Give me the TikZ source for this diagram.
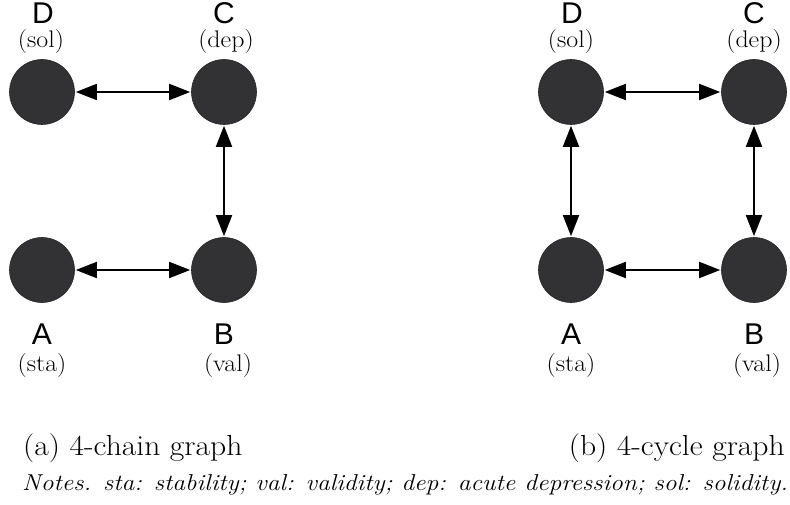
\documentclass[tikz,border=0pt]{standalone}
\usepackage{fontspec}
\setsansfont{Liberation Sans}
\usetikzlibrary{arrows.meta}
\definecolor{nodegray}{RGB}{50,50,52}
\tikzset{
  vtx/.style={circle,fill=nodegray,draw=black!85,line width=0.6pt,minimum size=65pt,inner sep=0pt},
  letter/.style={font=\sffamily\fontsize{30}{30}\selectfont,inner sep=0pt},
  abbr/.style={font=\fontsize{24}{24}\selectfont,inner sep=0pt,xscale=1.08},
  link/.style={line width=1.8pt,{Triangle[length=21pt,width=16pt]}-{Triangle[length=21pt,width=16pt]},shorten <=1pt,shorten >=1pt},
  captext/.style={font=\fontsize{29}{29}\selectfont,inner sep=0pt,anchor=base west,xscale=1.09},
}
\begin{document}
\begin{tikzpicture}[x=1pt,y=-1pt]
\useasboundingbox (0,0) rectangle (790,505);
% (a) chain
\node[vtx] (aD) at (42,92) {};
\node[vtx] (aC) at (224,92) {};
\node[vtx] (aA) at (42,270) {};
\node[vtx] (aB) at (224,270) {};
\node[letter] (aDl) at (43,13) {D};
\node[abbr] (aDs) at (41,42) {(sol)};
\node[letter] (aCl) at (224,13) {C};
\node[abbr] (aCs) at (226,42) {(dep)};
\node[letter] (aAl) at (42,334) {A};
\node[abbr] (aAs) at (42,366) {(sta)};
\node[letter] (aBl) at (224,334) {B};
\node[abbr] (aBs) at (228,366) {(val)};
\draw[link] (aD) -- (aC);
\draw[link] (aC) -- (aB);
\draw[link] (aA) -- (aB);
% (b) cycle
\node[vtx] (bD) at (571,92) {};
\node[vtx] (bC) at (754,92) {};
\node[vtx] (bA) at (571,270) {};
\node[vtx] (bB) at (754,270) {};
\node[letter] (bDl) at (572,13) {D};
\node[abbr] (bDs) at (571,42) {(sol)};
\node[letter] (bCl) at (754,13) {C};
\node[abbr] (bCs) at (754,42) {(dep)};
\node[letter] (bAl) at (571,334) {A};
\node[abbr] (bAs) at (571,366) {(sta)};
\node[letter] (bBl) at (754,334) {B};
\node[abbr] (bBs) at (757,366) {(val)};
\draw[link] (bD) -- (bC);
\draw[link] (bC) -- (bB);
\draw[link] (bA) -- (bB);
\draw[link] (bD) -- (bA);
% captions
\node[captext] (capa) at (23,455) {(a) 4-chain graph};
\node[captext,anchor=base east] (capb) at (785,455) {(b) 4-cycle graph};
\node[font=\fontsize{23}{23}\selectfont\itshape,inner sep=0pt,anchor=base west,xscale=1.11] (notes) at (22,490) {Notes. sta: stability; val: validity; dep: acute depression; sol: solidity.};
\end{tikzpicture}
\end{document}
